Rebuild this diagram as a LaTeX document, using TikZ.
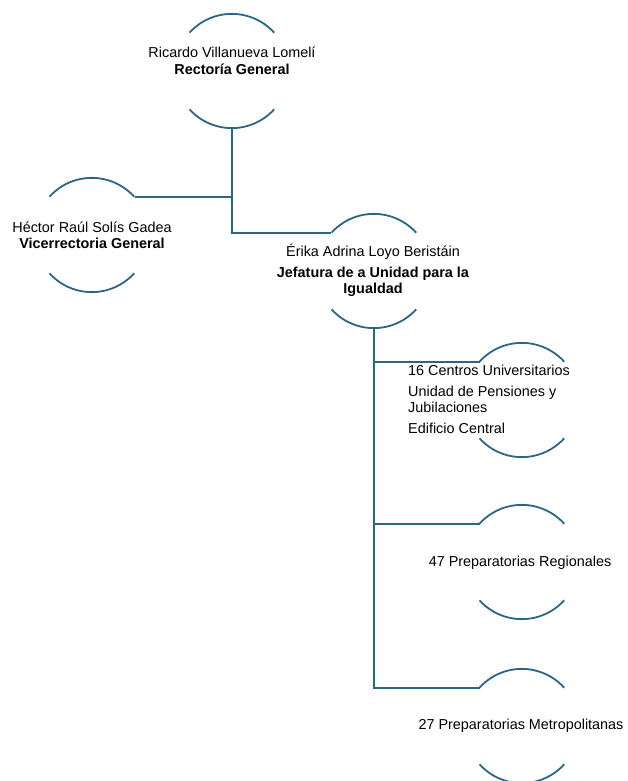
\documentclass[tikz,border=0pt]{standalone}
\usepackage{fontspec}
\setmainfont{Liberation Sans}
\usetikzlibrary{positioning}
\definecolor{linea}{HTML}{2B6785}

\begin{document}
\begin{tikzpicture}[x=1pt,y=-1pt,
  puesto/.style={circle,minimum size=114pt,inner sep=0pt},
  texto/.style={font=\fontsize{14.4}{16}\selectfont,inner sep=0pt},
  arco/.style={draw=linea,line width=1.8pt},
  enlace/.style={draw=linea,line width=1.8pt}]

\useasboundingbox (0,0) rectangle (628,781);

\node[puesto] (rect) at (232,71) {};
\node[puesto] (vice) at (92,235) {};
\node[puesto] (igual) at (374,271) {};
\node[puesto] (centros) at (522,400) {};
\node[puesto] (region) at (522,562) {};
\node[puesto] (metro) at (522,726) {};

\foreach \n in {rect,vice,igual,centros,region,metro}{
  \path[arco] (\n.138) arc[start angle=138,end angle=42,radius=57pt];
  \path[arco] (\n.222) arc[start angle=222,end angle=318,radius=57pt];
}

\node[texto,align=center] (rectT) at (232,61) {Ricardo Villanueva Lomelí\\[1pt]\textbf{Rectoría General}};
\node[texto,align=center] (viceT) at (92,235) {Héctor Raúl Solís Gadea\\\textbf{Vicerrectoria General}};
\node[texto,align=center] (igualT) at (373,270) {Érika Adrina Loyo Beristáin\\[5pt]\textbf{Jefatura de a Unidad para la}\\\textbf{Igualdad}};
\node[texto,align=left,anchor=west] (centrosT) at (408,399) {16 Centros Universitarios\\[5pt]Unidad de Pensiones y\\Jubilaciones\\[5pt]Edificio Central};
\node[texto] (regionT) at (520,563) {47 Preparatorias Regionales};
\node[texto] (metroT) at (521,726) {27 Preparatorias Metropolitanas};

\path[enlace] (rect.south) |- (igual.138);
\path[enlace] (vice.42) -- (vice.42 -| rect.south);
\path[enlace] (igual.south) |- (centros.138);
\path[enlace] (igual.south) |- (region.138);
\path[enlace] (igual.south) |- (metro.138);
\end{tikzpicture}
\end{document}
